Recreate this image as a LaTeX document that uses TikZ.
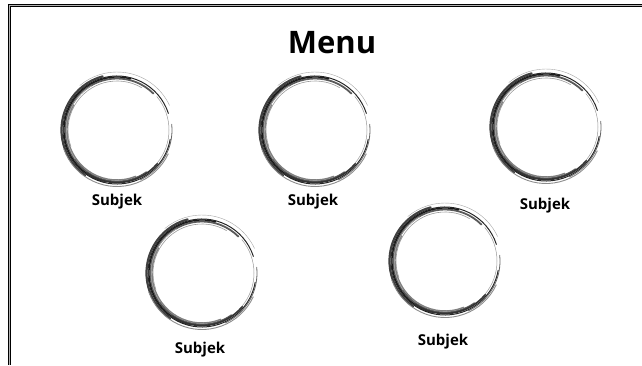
\documentclass[tikz,border=0pt]{standalone}
\usepackage{fontspec}
\setmainfont{Open Sans}
\usepackage{tikz}
\usetikzlibrary{positioning,calc}

\tikzset{
  ring/.style={circle, minimum size=108pt, inner sep=0pt},
  subj/.style={font=\fontsize{15}{18}\selectfont\bfseries},
  stroke/.style={line cap=round}
}

\begin{document}
\begin{tikzpicture}[x=1pt,y=1pt]
\useasboundingbox (0,0) rectangle (642,365);
% frame
\draw[double=black!30, double distance=0.8pt, line width=1.5pt] (9.5,0) -- (9.5,359.5) -- (642,359.5);
% title
\node[font=\fontsize{31}{36}\selectfont\bfseries] (menu) at (332,322) {Menu};
% rings
\node[ring] (s1) at (117,235) {};
\node[ring] (s2) at (315,235) {};
\node[ring] (s3) at (546,238) {};
\node[ring] (s4) at (202,92) {};
\node[ring] (s5) at (445,104) {};
% brush strokes
\foreach \c in {s1,s2,s3,s4,s5}{
  \foreach \a/\b/\dr/\w/\g in {18/350/0/1.0/85, 45/305/-2.5/1.8/65, 75/255/-1/1.3/90, 105/235/1.5/2.2/75,
                               25/130/4/0.4/35, -65/6/1/0.8/60, 150/292/-4/1.4/50, 200/335/2.5/0.9/45,
                               60/200/-5/0.6/40, 235/320/-1.5/1.7/80, 120/215/-3/0.5/30, -40/40/-2/0.5/40}{
    \draw[stroke, line width=\w pt, black!\g] ($(\c)+(\a:54+\dr)$) arc[start angle=\a, end angle=\b, radius=54+\dr];
  }
}
% labels
\node[subj] (l1) at (117,163) {Subjek};
\node[subj] (l2) at (313,163) {Subjek};
\node[subj] (l3) at (545,159) {Subjek};
\node[subj] (l4) at (200,15) {Subjek};
\node[subj] (l5) at (443,23) {Subjek};
\end{tikzpicture}
\end{document}
